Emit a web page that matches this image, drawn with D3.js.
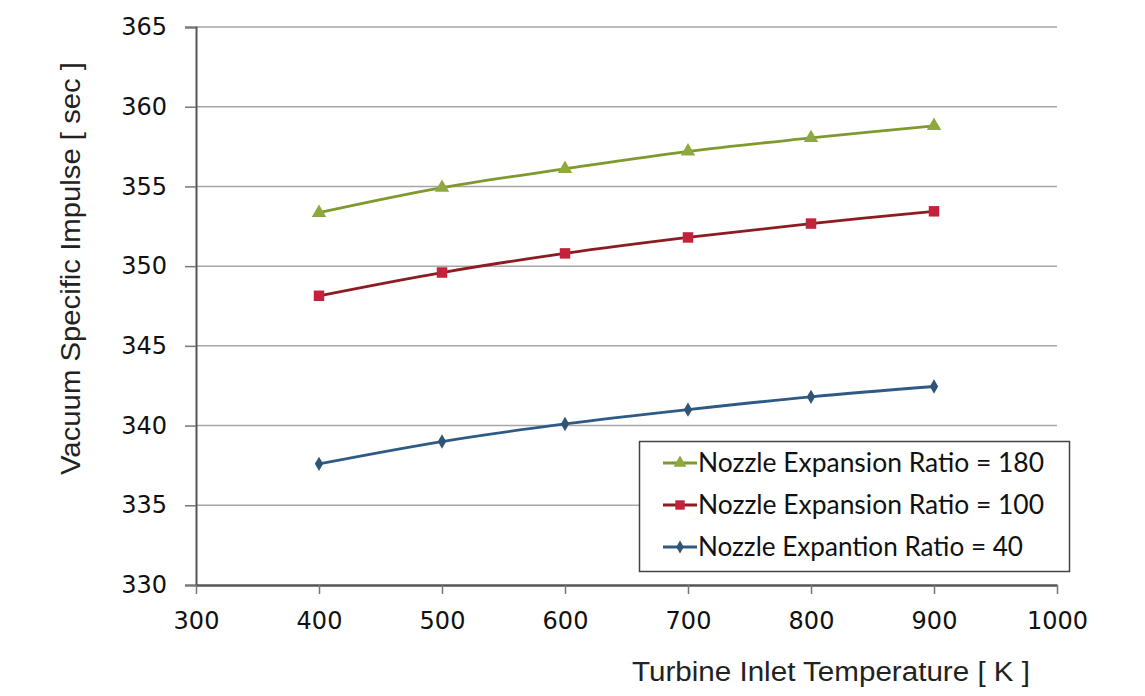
<!DOCTYPE html>
<html>
<head>
<meta charset="utf-8">
<script src="https://cdn.jsdelivr.net/npm/d3@7/dist/d3.min.js"></script>
<style>
  body { margin: 0; background: #fff; }
  svg { display: block; }
</style>
</head>
<body>
<svg id="chart" width="1145" height="696"></svg>
<script>
// data
var temps = [400, 500, 600, 700, 800, 900];
var ratio180 = [353.35, 354.92, 356.1, 357.2, 358.04, 358.8];
var ratio100 = [348.14, 349.6, 350.8, 351.8, 352.67, 353.44];
var ratio40 = [337.6, 339.0, 340.1, 341.0, 341.8, 342.45];
var xTicks = [300, 400, 500, 600, 700, 800, 900, 1000];
var yTicks = [330, 335, 340, 345, 350, 355, 360, 365];
var seriesNames = ["Nozzle Expansion Ratio = 180", "Nozzle Expansion Ratio = 100", "Nozzle Expantion Ratio = 40"];

var svg = d3.select("#chart");

var x = d3.scaleLinear().domain([300, 1000]).range([196, 1057]);
var y = d3.scaleLinear().domain([330, 365]).range([585, 27]);

// horizontal grid lines
svg.append("g")
  .selectAll("line")
  .data(yTicks.slice(1))
  .enter().append("line")
  .attr("x1", x(300)).attr("x2", x(1000))
  .attr("y1", d => y(d)).attr("y2", d => y(d))
  .attr("stroke", "#a6a6a6")
  .attr("stroke-width", 1.5);

// y axis
var yAxis = d3.axisLeft(y).tickValues(yTicks).tickSize(11).tickPadding(18).tickFormat(d3.format("d"));
var gy = svg.append("g").attr("transform", "translate(" + x(300) + ",0)").call(yAxis);
gy.select(".domain").attr("stroke", "#555").attr("stroke-width", 2);
gy.selectAll(".tick line").attr("stroke", "#777").attr("stroke-width", 1.5);
gy.selectAll(".tick text")
  .attr("font-family", "DejaVu Sans, Verdana, sans-serif")
  .attr("font-size", 24)
  .attr("fill", "#111");

// x axis
var xAxis = d3.axisBottom(x).tickValues(xTicks).tickSize(9).tickSizeOuter(0).tickPadding(18).tickFormat(d3.format("d"));
var gx = svg.append("g").attr("transform", "translate(0," + y(330) + ")").call(xAxis);
gx.select(".domain").attr("stroke", "#555").attr("stroke-width", 2.5);
gx.selectAll(".tick line").attr("stroke", "#777").attr("stroke-width", 1.5);
gx.selectAll(".tick text")
  .attr("font-family", "DejaVu Sans, Verdana, sans-serif")
  .attr("font-size", 24)
  .attr("fill", "#111");

// axis titles
svg.append("text")
  .attr("x", 632).attr("y", 681)
  .attr("textLength", 398).attr("lengthAdjust", "spacingAndGlyphs")
  .attr("font-family", "Liberation Sans Narrow, Liberation Sans, sans-serif")
  .attr("font-size", 27)
  .attr("fill", "#222")
  .text("Turbine Inlet Temperature [ K ]");

svg.append("text")
  .attr("transform", "translate(80,475) rotate(-90)")
  .attr("textLength", 413).attr("lengthAdjust", "spacingAndGlyphs")
  .attr("font-family", "Liberation Sans Narrow, Liberation Sans, sans-serif")
  .attr("font-size", 27)
  .attr("fill", "#222")
  .text("Vacuum Specific Impulse [ sec ]");

var series = [
  { name: seriesNames[0], values: ratio180, line: "#7e9a2c", marker: "#8ea93e", symbol: d3.symbolTriangle, size: 90 },
  { name: seriesNames[1], values: ratio100, line: "#8c1c22", marker: "#c4213c", symbol: d3.symbolSquare, size: 110 },
  { name: seriesNames[2], values: ratio40, line: "#2e5b86", marker: "#2f5474", symbol: d3.symbolDiamond, size: 60 }
];

var line = d3.line()
  .x((d, i) => x(temps[i]))
  .y(d => y(d))
  .curve(d3.curveCatmullRom);

series.forEach(function(s) {
  svg.append("path")
    .datum(s.values)
    .attr("d", line)
    .attr("fill", "none")
    .attr("stroke", s.line)
    .attr("stroke-width", 2.8);

  svg.append("g")
    .selectAll("path")
    .data(s.values)
    .enter().append("path")
    .attr("transform", (d, i) => "translate(" + x(temps[i]) + "," + y(d) + ")")
    .attr("d", d3.symbol().type(s.symbol).size(s.size))
    .attr("fill", s.marker);
});

// legend
var legend = svg.append("g");
legend.append("rect")
  .attr("x", 639.5).attr("y", 441.5)
  .attr("width", 430).attr("height", 130)
  .attr("fill", "#fff")
  .attr("stroke", "#444")
  .attr("stroke-width", 1.5);

series.forEach(function(s, i) {
  var cy = 463 + i * 42;
  legend.append("line")
    .attr("x1", 663).attr("x2", 697)
    .attr("y1", cy).attr("y2", cy)
    .attr("stroke", s.line)
    .attr("stroke-width", 2.8);
  legend.append("path")
    .attr("transform", "translate(680," + cy + ")")
    .attr("d", d3.symbol().type(s.symbol).size(s.size * 0.8))
    .attr("fill", s.marker);
  legend.append("text")
    .attr("x", 698).attr("y", cy + 9)
    .attr("textLength", i == 2 ? 325 : 346).attr("lengthAdjust", "spacingAndGlyphs")
    .attr("font-family", "Lato, Open Sans, sans-serif")
    .attr("font-size", 27)
    .attr("fill", "#111")
    .text(s.name);
});
</script>
</body>
</html>
